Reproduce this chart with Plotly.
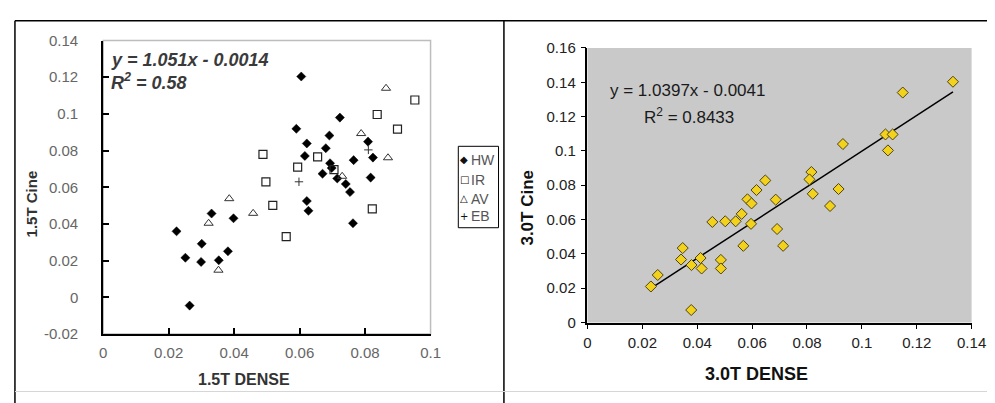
import plotly.graph_objects as go
import numpy as np

# ---------------- data: left panel (1.5T) ----------------
hw_x = [0.0605, 0.0723, 0.0590, 0.0691, 0.0622, 0.0680, 0.0616, 0.0809, 0.0824, 0.0765,
        0.0693, 0.0698, 0.0670, 0.0715, 0.0741, 0.0754, 0.0817, 0.0622, 0.0627, 0.0763,
        0.0331, 0.0398, 0.0224, 0.0301, 0.0251, 0.0299, 0.0353, 0.0381, 0.0264]
hw_y = [0.1204, 0.0980, 0.0919, 0.0882, 0.0839, 0.0813, 0.0771, 0.0849, 0.0762, 0.0748,
        0.0731, 0.0705, 0.0674, 0.0648, 0.0618, 0.0574, 0.0653, 0.0525, 0.0472, 0.0404,
        0.0457, 0.0431, 0.0360, 0.0292, 0.0216, 0.0193, 0.0202, 0.0251, -0.0045]
ir_x = [0.0952, 0.0837, 0.0899, 0.0488, 0.0655, 0.0594, 0.0705, 0.0497, 0.0518, 0.0822, 0.0559]
ir_y = [0.1076, 0.0997, 0.0917, 0.0780, 0.0766, 0.0710, 0.0696, 0.0630, 0.0501, 0.0482, 0.0331]
av_x = [0.0864, 0.0788, 0.0870, 0.0730, 0.0385, 0.0458, 0.0322, 0.0352]
av_y = [0.1140, 0.0893, 0.0761, 0.0660, 0.0538, 0.0458, 0.0404, 0.0148]
eb_x = [0.0810, 0.0598]
eb_y = [0.0804, 0.0630]

left_xticks = [0, 0.02, 0.04, 0.06, 0.08, 0.1]
left_xlabels = ["0", "0.02", "0.04", "0.06", "0.08", "0.1"]
left_yticks = [-0.02, 0, 0.02, 0.04, 0.06, 0.08, 0.1, 0.12, 0.14]
left_ylabels = ["-0.02", "0", "0.02", "0.04", "0.06", "0.08", "0.1", "0.12", "0.14"]
left_eq = "y = 1.051x - 0.0014"
left_r2 = "R<sup>2</sup> = 0.58"
legend_names = ["HW", "IR", "AV", "EB"]
legend_glyphs = ["\u25c6", "\u25a1", "\u25b3", "+"]

# ---------------- data: right panel (3.0T) ----------------
t3_x = [0.1332, 0.1149, 0.1086, 0.1112, 0.1095, 0.0931, 0.0816, 0.0809, 0.0821, 0.0915,
        0.0884, 0.0648, 0.0616, 0.0583, 0.0598, 0.0686, 0.0562, 0.0540, 0.0502, 0.0455,
        0.0596, 0.0691, 0.0713, 0.0568, 0.0347, 0.0341, 0.0412, 0.0379, 0.0416, 0.0486,
        0.0486, 0.0256, 0.0231, 0.0378]
t3_y = [0.1403, 0.1340, 0.1096, 0.1096, 0.1003, 0.1040, 0.0877, 0.0834, 0.0750, 0.0778,
        0.0679, 0.0828, 0.0772, 0.0718, 0.0694, 0.0716, 0.0633, 0.0590, 0.0590, 0.0586,
        0.0575, 0.0545, 0.0447, 0.0447, 0.0434, 0.0367, 0.0376, 0.0335, 0.0315, 0.0365,
        0.0315, 0.0277, 0.0210, 0.0073]
t3_slope = 1.0397
t3_intercept = -0.0041
right_xticks = [0, 0.02, 0.04, 0.06, 0.08, 0.1, 0.12, 0.14]
right_xlabels = ["0", "0.02", "0.04", "0.06", "0.08", "0.1", "0.12", "0.14"]
right_yticks = [0, 0.02, 0.04, 0.06, 0.08, 0.1, 0.12, 0.14, 0.16]
right_ylabels = ["0", "0.02", "0.04", "0.06", "0.08", "0.1", "0.12", "0.14", "0.16"]
right_eq = "y = 1.0397x - 0.0041"
right_r2 = "R<sup>2</sup> = 0.8433"

# ---------------- figure ----------------
W, H = 995, 403
FONT = "Liberation Sans, Arial, sans-serif"


def PX(px):
    return px / W


def PY(py):
    return 1 - py / H


fig = go.Figure()

fig.add_trace(go.Scatter(x=hw_x, y=hw_y, mode="markers", name="HW", xaxis="x", yaxis="y",
                         marker=dict(symbol="diamond", size=7, color="black",
                                     line=dict(width=0.5, color="black")), showlegend=False))
fig.add_trace(go.Scatter(x=ir_x, y=ir_y, mode="markers", name="IR", xaxis="x", yaxis="y",
                         marker=dict(symbol="square-open", size=8, color="#222",
                                     line=dict(width=1.2, color="#222")), showlegend=False))
fig.add_trace(go.Scatter(x=av_x, y=av_y, mode="markers", name="AV", xaxis="x", yaxis="y",
                         marker=dict(symbol="triangle-up-open", size=8, color="#333",
                                     line=dict(width=1, color="#333")), showlegend=False))
fig.add_trace(go.Scatter(x=eb_x, y=eb_y, mode="markers", name="EB", xaxis="x", yaxis="y",
                         marker=dict(symbol="cross-thin-open", size=6, color="#333",
                                     line=dict(width=1, color="#333")), showlegend=False))

# right panel
xmin, xmax = min(t3_x), max(t3_x)
fig.add_trace(go.Scatter(x=[xmin, xmax],
                         y=[t3_slope * xmin + t3_intercept, t3_slope * xmax + t3_intercept],
                         mode="lines", xaxis="x2", yaxis="y2", line=dict(color="black", width=1.5),
                         showlegend=False, hoverinfo="skip"))
fig.add_trace(go.Scatter(x=t3_x, y=t3_y, mode="markers", name="3.0T", xaxis="x2", yaxis="y2",
                         marker=dict(symbol="diamond", size=8.5, color="#F2D21A",
                                     line=dict(width=1, color="#4e4218")), showlegend=False))

tickfont_l = dict(family=FONT, size=15, color="#666")
tickfont_r = dict(family=FONT, size=15, color="#222")

fig.update_layout(
    width=W, height=H, autosize=False,
    margin=dict(l=0, r=0, t=0, b=0),
    paper_bgcolor="white", plot_bgcolor="rgba(0,0,0,0)",
    xaxis=dict(domain=[PX(93), PX(426.7)], range=[0, 0.1], anchor="y",
               tickvals=left_xticks, ticktext=left_xlabels, ticks="inside", ticklen=6,
               tickwidth=1.5, tickcolor="black", showline=True, linecolor="black", linewidth=2,
               showgrid=False, zeroline=False, tickfont=tickfont_l, ticklabelstandoff=4),
    yaxis=dict(domain=[PY(331), PY(24.6)], range=[-0.02, 0.14], anchor="x",
               tickvals=left_yticks, ticktext=left_ylabels, ticks="inside", ticklen=6,
               tickwidth=1.5, tickcolor="black", showline=True, linecolor="black", linewidth=2,
               showgrid=False, zeroline=False, tickfont=tickfont_l, ticklabelstandoff=20),
    xaxis2=dict(domain=[PX(586.7), PX(978.3)], range=[0, 0.14], anchor="y2",
                tickvals=right_xticks, ticktext=right_xlabels, ticks="outside", ticklen=5,
                tickwidth=1.2, tickcolor="black", showline=True, linecolor="black", linewidth=1.5,
                showgrid=False, zeroline=False, tickfont=tickfont_r, ticklabelstandoff=1),
    yaxis2=dict(domain=[PY(319), PY(32.3)], range=[0, 0.16], anchor="x2",
                tickvals=right_yticks, ticktext=right_ylabels, ticks="outside", ticklen=5,
                tickwidth=1.2, tickcolor="black", showline=True, linecolor="black", linewidth=1.5,
                showgrid=False, zeroline=False, tickfont=tickfont_r, ticklabelstandoff=2),
)

shapes = [
    # left frame (light gray) and right gray plot area
    dict(type="rect", xref="x domain", yref="y domain", x0=0, x1=1, y0=0, y1=1,
         line=dict(color="#bdbdbd", width=1.5), layer="below"),
    dict(type="rect", xref="x2 domain", yref="y2 domain", x0=0, x1=1, y0=0, y1=1,
         fillcolor="#C9C9C9", line=dict(width=0), layer="below"),
    # outer panel borders
    dict(type="line", xref="paper", yref="paper", x0=PX(3), x1=1, y0=PY(4), y1=PY(4),
         line=dict(color="black", width=1.5)),
    dict(type="line", xref="paper", yref="paper", x0=PX(3), x1=PX(3), y0=PY(4), y1=0,
         line=dict(color="black", width=1.5)),
    dict(type="line", xref="paper", yref="paper", x0=PX(501.5), x1=PX(501.5), y0=PY(4), y1=0,
         line=dict(color="black", width=1.5)),
    dict(type="line", xref="paper", yref="paper", x0=PX(3), x1=1, y0=PY(391), y1=PY(391),
         line=dict(color="#d6d6d6", width=1)),
    # legend box
    dict(type="rect", xref="paper", yref="paper", x0=PX(455), x1=PX(496), y0=PY(220), y1=PY(135),
         line=dict(color="black", width=1), fillcolor="white"),
]

ann = []
# left equation
ann.append(dict(text="<b><i>" + left_eq + "</i></b>", x=PX(99), y=PY(45), xref="paper", yref="paper",
                xanchor="left", yanchor="middle", showarrow=False,
                font=dict(family=FONT, size=18, color="#3a3a3a")))
ann.append(dict(text="<b><i>" + left_r2 + "</i></b>", x=PX(99), y=PY(67), xref="paper", yref="paper",
                xanchor="left", yanchor="middle", showarrow=False,
                font=dict(family=FONT, size=18, color="#3a3a3a")))
# right equation
ann.append(dict(text=right_eq, x=PX(608), y=PY(77), xref="paper", yref="paper",
                xanchor="left", yanchor="middle", showarrow=False,
                font=dict(family=FONT, size=17, color="#1a1a1a")))
ann.append(dict(text=right_r2, x=PX(642), y=PY(103), xref="paper", yref="paper",
                xanchor="left", yanchor="middle", showarrow=False,
                font=dict(family=FONT, size=17, color="#1a1a1a")))
# axis titles
ann.append(dict(text="<b>1.5T DENSE</b>", x=PX(237), y=PY(378), xref="paper", yref="paper",
                xanchor="center", yanchor="middle", showarrow=False,
                font=dict(family=FONT, size=16, color="#333")))
ann.append(dict(text="<b>1.5T Cine</b>", x=PX(20), y=PY(195), xref="paper", yref="paper",
                xanchor="center", yanchor="middle", showarrow=False, textangle=-90,
                font=dict(family=FONT, size=15, color="#333")))
ann.append(dict(text="<b>3.0T DENSE</b>", x=PX(759), y=PY(373), xref="paper", yref="paper",
                xanchor="center", yanchor="middle", showarrow=False,
                font=dict(family=FONT, size=18, color="#111")))
ann.append(dict(text="<b>3.0T Cine</b>", x=PX(526), y=PY(199), xref="paper", yref="paper",
                xanchor="center", yanchor="middle", showarrow=False, textangle=-90,
                font=dict(family=FONT, size=17, color="#111")))
# legend entries
leg_y = [149, 170, 190, 208]
for g, n, yy in zip(legend_glyphs, legend_names, leg_y):
    ann.append(dict(text=g, x=PX(461), y=PY(yy), xref="paper", yref="paper",
                    xanchor="center", yanchor="middle", showarrow=False,
                    font=dict(family="DejaVu Sans", size=10, color="#111")))
    ann.append(dict(text=n, x=PX(466), y=PY(yy), xref="paper", yref="paper",
                    xanchor="left", yanchor="middle", showarrow=False,
                    font=dict(family=FONT, size=14, color="#555")))

fig.update_layout(shapes=shapes, annotations=ann)
fig.write_html("out.html")
